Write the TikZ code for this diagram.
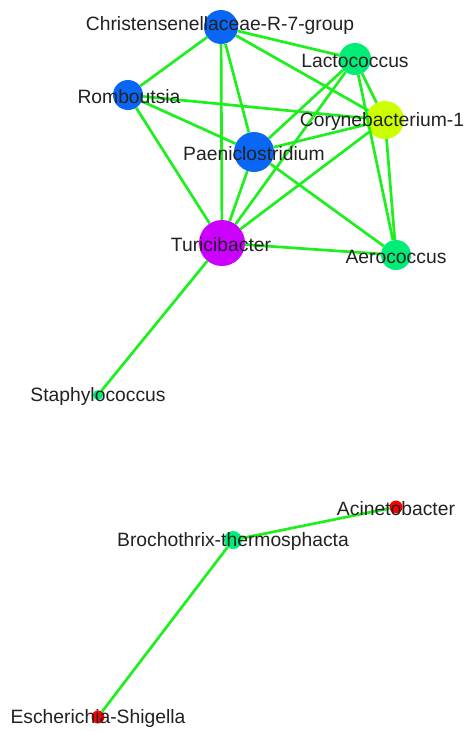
\documentclass[tikz,border=0pt]{standalone}
\usepackage{fontspec}
\setmainfont{Liberation Sans}
\definecolor{edgegreen}{HTML}{1EF01E}
\definecolor{nblue}{HTML}{0A66F5}
\definecolor{ngreen}{HTML}{00EE77}
\definecolor{nyellow}{HTML}{CCFF00}
\definecolor{npurple}{HTML}{CC00FF}
\definecolor{nred}{HTML}{FF0000}
\definecolor{txt}{HTML}{222222}
\begin{document}
\begin{tikzpicture}[x=1pt,y=-1pt,
  vtx/.style={circle,inner sep=0pt,draw=none,minimum size=#1},
  lbl/.style={text=txt,inner sep=0pt,font=\fontsize{19.3}{21}\selectfont},
  edge/.style={draw=edgegreen,line width=2.7pt}]
\useasboundingbox (0,0) rectangle (468,731);
\fill[white] (0,0) rectangle (468,731);
% nodes
\node[vtx=34pt,fill=nblue] (chr) at (221,27) {};
\node[vtx=32pt,fill=ngreen] (lac) at (355,59) {};
\node[vtx=30pt,fill=nblue] (rom) at (128,95) {};
\node[vtx=38pt,fill=nyellow] (cor) at (385,120) {};
\node[vtx=40pt,fill=nblue] (pae) at (254,152) {};
\node[vtx=46pt,fill=npurple] (tur) at (222,243) {};
\node[vtx=30pt,fill=ngreen] (aer) at (396,255) {};
\node[vtx=10pt,fill=ngreen] (sta) at (98,395) {};
\node[vtx=13pt,fill=nred] (aci) at (396,507) {};
\node[vtx=18pt,fill=ngreen] (bro) at (233,540) {};
\node[vtx=13pt,fill=nred] (esc) at (98,717) {};
% edges
\foreach \a/\b in {chr/rom,chr/lac,chr/cor,chr/pae,chr/tur,
  rom/cor,rom/pae,rom/tur,
  lac/cor,lac/aer,lac/pae,lac/tur,
  cor/pae,cor/tur,cor/aer,
  pae/tur,pae/aer,tur/aer,tur/sta,
  bro/aci,bro/esc}
  \draw[edge] (\a) -- (\b);
% labels
\node[lbl] (lchr) at (220,26) {Christensenellaceae-R-7-group};
\node[lbl] (llac) at (355,61) {Lactococcus};
\node[lbl] (lrom) at (129,97) {Romboutsia};
\node[lbl] (lcor) at (382,122) {Corynebacterium-1};
\node[lbl] (lpae) at (254,154) {Paeniclostridium};
\node[lbl] (ltur) at (221,245) {Turicibacter};
\node[lbl] (laer) at (396,257) {Aerococcus};
\node[lbl] (lsta) at (98,397) {Staphylococcus};
\node[lbl] (laci) at (396,509) {Acinetobacter};
\node[lbl] (lbro) at (233,542) {Brochothrix-thermosphacta};
\node[lbl] (lesc) at (98,719) {Escherichia-Shigella};
\end{tikzpicture}
\end{document}
